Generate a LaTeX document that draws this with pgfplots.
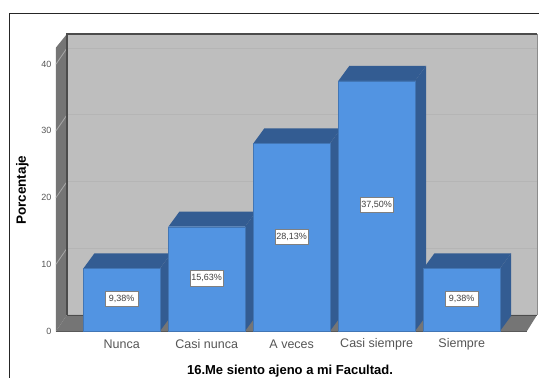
\documentclass[border=0pt]{standalone}
\usepackage{pgfplots}
\pgfplotsset{compat=1.18}
\usepackage{fontspec}
\setmainfont{Liberation Sans}
\definecolor{wallback}{HTML}{BEBEBE}
\definecolor{wallside}{HTML}{757575}
\definecolor{barfront}{HTML}{5294E2}
\definecolor{bardepth}{HTML}{335C92}
\definecolor{gridback}{HTML}{B5B5B5}
\definecolor{gridside}{HTML}{A8A8A8}
\definecolor{ticktext}{HTML}{555555}
\pgfplotsset{
  face/.style={fill=#1,draw=none,mark=none,forget plot},
}
\begin{document}
\begin{tikzpicture}
\path[use as bounding box] (0pt,0pt) rectangle (539pt,378pt);
\fill[white] (0pt,0pt) rectangle (539pt,378pt);
\draw[line width=1.3pt,black!85] (9.5pt,0pt) -- (9.5pt,364.5pt) -- (539pt,364.5pt);
\begin{axis}[
  at={(56pt,47pt)},anchor=south west,
  scale only axis,width=471pt,height=283.5pt,
  xmin=-0.773,xmax=4.768,ymin=0,ymax=42.5,
  clip=false,
  axis x line*=bottom,axis y line*=left,
  x axis line style={draw=none},y axis line style={draw=none},
  xtick={0,1,2,3,4},
  xticklabels={Nunca,Casi nunca,A veces,Casi siempre,Siempre},
  ytick={0,10,20,30,40},
  major tick length=0pt,
  /pgf/number format/assume math mode=true,
  xticklabel style={font=\fontsize{12.5}{14}\selectfont,text=ticktext,anchor=center,yshift=-13pt},
  yticklabel style={font=\fontsize{9}{10}\selectfont,text=ticktext,xshift=-1pt},
  xlabel={16.Me siento ajeno a mi Facultad.},
  xlabel style={font=\bfseries\fontsize{13}{14}\selectfont,at={(axis cs:1.98,0)},anchor=center,yshift=-40pt},
  ylabel={Porcentaje},
  ylabel style={font=\bfseries\fontsize{13.5}{14}\selectfont,at={(axis cs:-0.773,21.1)},anchor=center,yshift=33.5pt},
]
% walls and floor
\addplot[face=wallside] coordinates {(-0.773,0)(-0.644,2.4)(-0.644,44.53)(-0.773,42.5)} -- cycle;
\addplot[face=wallback] coordinates {(-0.644,2.4)(4.886,2.4)(4.886,44.53)(-0.644,44.53)} -- cycle;
\addplot[face=wallside] coordinates {(-0.773,0)(-0.644,2.4)(4.886,2.4)(4.768,0)} -- cycle;
% grid
\addplot[gridback,line width=1pt,forget plot] coordinates {(-0.644,12.4)(4.886,12.4)};
\addplot[gridback,line width=1pt,forget plot] coordinates {(-0.644,22.4)(4.886,22.4)};
\addplot[gridback,line width=1pt,forget plot] coordinates {(-0.644,32.4)(4.886,32.4)};
\addplot[gridback,line width=1pt,forget plot] coordinates {(-0.644,42.4)(4.886,42.4)};
\addplot[gridside,line width=0.8pt,forget plot] coordinates {(-0.773,10)(-0.644,12.4)};
\addplot[gridside,line width=0.8pt,forget plot] coordinates {(-0.773,20)(-0.644,22.4)};
\addplot[gridside,line width=0.8pt,forget plot] coordinates {(-0.773,30)(-0.644,32.4)};
\addplot[gridside,line width=0.8pt,forget plot] coordinates {(-0.773,40)(-0.644,42.4)};
% wall edges
\addplot[draw=black!70,line width=1.2pt,forget plot] coordinates {(-0.644,2.4)(-0.644,44.53)(4.886,44.53)};
\addplot[draw=black!45,line width=0.8pt,forget plot] coordinates {(4.886,44.53)(4.886,2.4)};
\addplot[draw=black!70,line width=0.8pt,forget plot] coordinates {(-0.644,2.4)(4.886,2.4)};
\addplot[draw=black!65,line width=1pt,forget plot] coordinates {(-0.773,0)(4.768,0)};
% depth faces of the bars
\addplot[face=bardepth] coordinates {(0.451,0)(0.58,2.25)(0.58,11.63)(0.451,9.38)} -- cycle;
\addplot[face=bardepth] coordinates {(-0.451,9.38)(0.451,9.38)(0.58,11.63)(-0.322,11.63)} -- cycle;
\addplot[face=bardepth] coordinates {(1.451,0)(1.58,2.25)(1.58,17.88)(1.451,15.63)} -- cycle;
\addplot[face=bardepth] coordinates {(0.549,15.63)(1.451,15.63)(1.58,17.88)(0.678,17.88)} -- cycle;
\addplot[face=bardepth] coordinates {(2.451,0)(2.58,2.25)(2.58,30.38)(2.451,28.13)} -- cycle;
\addplot[face=bardepth] coordinates {(1.549,28.13)(2.451,28.13)(2.58,30.38)(1.678,30.38)} -- cycle;
\addplot[face=bardepth] coordinates {(3.451,0)(3.58,2.25)(3.58,39.75)(3.451,37.5)} -- cycle;
\addplot[face=bardepth] coordinates {(2.549,37.5)(3.451,37.5)(3.58,39.75)(2.678,39.75)} -- cycle;
\addplot[face=bardepth] coordinates {(4.451,0)(4.58,2.25)(4.58,11.63)(4.451,9.38)} -- cycle;
\addplot[face=bardepth] coordinates {(3.549,9.38)(4.451,9.38)(4.58,11.63)(3.678,11.63)} -- cycle;
% bar fronts
\addplot[ybar,bar width=0.902,bar shift=0pt,fill=barfront,draw=barfront!80!black,line width=0.3pt,forget plot]
  coordinates {(0,9.38)(1,15.63)(2,28.13)(3,37.5)(4,9.38)};
% value labels
\addplot[only marks,mark=none,forget plot,
  point meta=explicit symbolic,
  nodes near coords,
  nodes near coords style={anchor=center,fill=white,draw=gray,line width=0.8pt,inner sep=0pt,
     minimum width=33pt,minimum height=15.5pt,font=\fontsize{9}{10}\selectfont,text=black!75},
] coordinates {(0,4.8)[9,38\%] (1,7.9)[15,63\%] (2,14.1)[28,13\%] (3,18.9)[37,50\%] (4,4.8)[9,38\%]};
\end{axis}
\end{tikzpicture}
\end{document}
